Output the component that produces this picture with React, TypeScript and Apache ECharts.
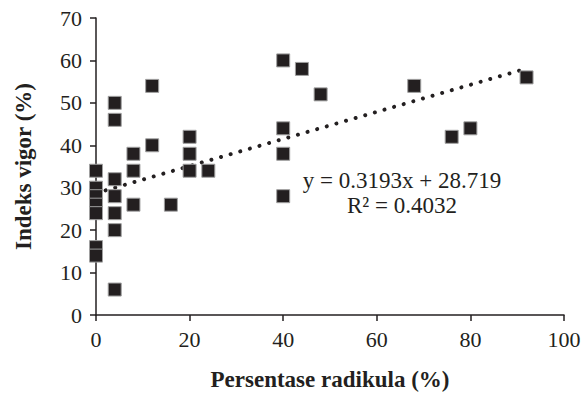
import React, { useEffect, useRef } from "react";
import * as echarts from "echarts";

const xValues = [0, 0, 0, 0, 0, 0, 0, 4, 4, 4, 4, 4, 4, 4, 8, 8, 8, 12, 12, 16, 20, 20, 20, 24, 40, 40, 40, 40, 44, 48, 68, 76, 80, 92];
const yValues = [34, 30, 28, 26, 24, 16, 14, 50, 46, 32, 28, 24, 20, 6, 38, 34, 26, 54, 40, 26, 42, 38, 34, 34, 60, 44, 38, 28, 58, 52, 54, 42, 44, 56];
const slope = 0.3193;
const intercept = 28.719;
const trendX = [0, 92];
const eqText = "y = 0.3193x + 28.719";
const r2Text = "R² = 0.4032";
const xTitle = "Persentase radikula (%)";
const yTitle = "Indeks vigor (%)";

const FONT = "Liberation Serif";

export default function App() {
  const ref = useRef<HTMLDivElement>(null);
  useEffect(() => {
    if (!ref.current) return;
    const chart = echarts.init(ref.current, undefined, { renderer: "svg" });
    const points = xValues.map((x, i) => [x, yValues[i]]);
    const trend = trendX.map((x) => [x, slope * x + intercept]);
    chart.setOption({
      animation: false,
      backgroundColor: "#ffffff",
      textStyle: { fontFamily: FONT },
      grid: { left: 96, right: 24, top: 18, bottom: 80 },
      xAxis: {
        type: "value",
        min: 0,
        max: 100,
        interval: 20,
        splitLine: { show: false },
        axisLine: { show: true, onZero: false, lineStyle: { color: "#231f20", width: 1.5 } },
        axisTick: { show: true, length: 6, lineStyle: { color: "#231f20", width: 1.5 } },
        axisLabel: { color: "#231f20", fontSize: 22, fontFamily: FONT, margin: 13 },
        name: xTitle,
        nameLocation: "middle",
        nameGap: 53,
        nameTextStyle: { color: "#231f20", fontSize: 23, fontWeight: "bold", fontFamily: FONT },
      },
      yAxis: {
        type: "value",
        min: 0,
        max: 70,
        interval: 10,
        splitLine: { show: false },
        axisLine: { show: true, lineStyle: { color: "#231f20", width: 1.5 } },
        axisTick: { show: true, length: 6, lineStyle: { color: "#231f20", width: 1.5 } },
        axisLabel: { color: "#231f20", fontSize: 22, fontFamily: FONT, margin: 14 },
        name: yTitle,
        nameLocation: "middle",
        nameGap: 61,
        nameTextStyle: { color: "#231f20", fontSize: 23, fontWeight: "bold", fontFamily: FONT },
      },
      series: [
        {
          type: "line",
          data: trend,
          showSymbol: false,
          symbol: "none",
          z: 1,
          lineStyle: { color: "#231f20", width: 4, type: [0.01, 10], cap: "round" },
        },
        {
          type: "scatter",
          data: points,
          symbol: "rect",
          symbolSize: 13,
          z: 2,
          itemStyle: { color: "#231f20", borderColor: "#a0a0a0", borderWidth: 1, opacity: 1 },
        },
      ],
      graphic: [
        {
          type: "text",
          x: 402,
          y: 180,
          style: { text: eqText, fontSize: 23, fontFamily: FONT, fill: "#231f20", textAlign: "center", textVerticalAlign: "middle" },
        },
        {
          type: "text",
          x: 402,
          y: 205,
          style: { text: r2Text, fontSize: 23, fontFamily: FONT, fill: "#231f20", textAlign: "center", textVerticalAlign: "middle" },
        },
      ],
    });
    return () => chart.dispose();
  }, []);
  return <div ref={ref} style={{ width: 588, height: 396, position: "absolute", left: 0, top: 0 }} />;
}
